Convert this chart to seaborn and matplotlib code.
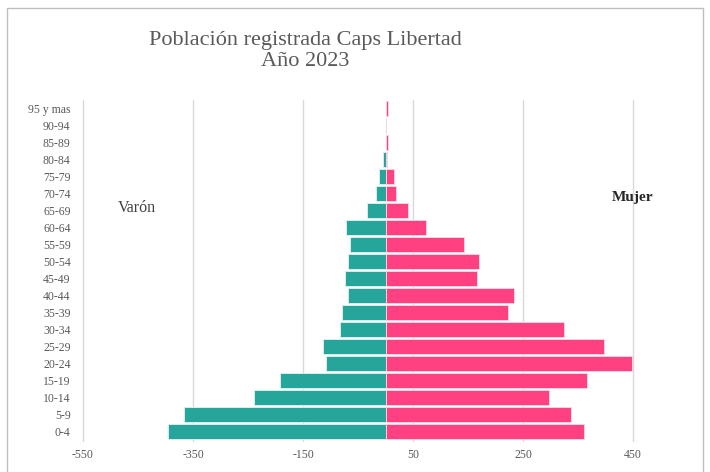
import numpy as np
import pandas as pd
import seaborn as sns
import matplotlib.pyplot as plt
from matplotlib.patches import Rectangle

# age groups, youngest first
ages = ['0-4', '5-9', '10-14', '15-19', '20-24', '25-29', '30-34', '35-39',
        '40-44', '45-49', '50-54', '55-59', '60-64', '65-69', '70-74',
        '75-79', '80-84', '85-89', '90-94', '95 y mas']
varon = [396, 367, 239, 191, 108, 114, 82, 79, 68, 74, 69, 65, 71, 34, 17,
         12, 5, 0, 0, 0]
mujer = [360, 338, 298, 366, 449, 398, 324, 222, 233, 166, 170, 142, 74, 40,
         19, 15, 3, 4, 0, 4]
x_ticks = [-550, -350, -150, 50, 250, 450]

teal = '#26A69A'
pink = '#FF4081'
gray = '#595959'

df = pd.DataFrame({'edad': ages, 'Varón': [-v for v in varon], 'Mujer': mujer})
order = ages[::-1]

sns.set_style('white')
plt.rcParams['font.family'] = ['Liberation Serif', 'DejaVu Serif']

fig = plt.figure(figsize=(7.1, 4.72), dpi=100)
ax = fig.add_axes([83 / 710, 1 - 440.5 / 472, 550 / 710, 341 / 472])

sns.barplot(data=df, x='Varón', y='edad', order=order, color=teal,
            width=0.88, edgecolor='#d8efec', linewidth=0.7, orient='h',
            saturation=1, ax=ax)
sns.barplot(data=df, x='Mujer', y='edad', order=order, color=pink,
            width=0.88, edgecolor='#f7d3df', linewidth=0.7, orient='h',
            saturation=1, ax=ax)

ax.set_xlim(-550, 450)
ax.set_ylim(len(ages) - 0.5, -0.5)
ax.set_xticks(x_ticks)
ax.set_xticklabels([str(t) for t in x_ticks])
ax.xaxis.grid(True, color='#d9d9d9', linewidth=1)
for gl in ax.get_xgridlines():
    gl.set_clip_on(False)
ax.set_axisbelow(True)
ax.set_xlabel('')
ax.set_ylabel('')
for s in ax.spines.values():
    s.set_visible(False)
ax.tick_params(axis='both', length=0, labelsize=8.5, labelcolor=gray)
ax.tick_params(axis='y', pad=9)
ax.tick_params(axis='x', pad=6)

fig.text(305 / 710, 1 - 40 / 472, 'Población registrada Caps Libertad',
         ha='center', va='center', fontsize=16, color=gray)
fig.text(305 / 710, 1 - 62 / 472, 'Año 2023',
         ha='center', va='center', fontsize=16, color=gray)
fig.text(137 / 710, 1 - 208 / 472, 'Varón', ha='center', va='center',
         fontsize=11.5, color='#404040')
fig.text(633 / 710, 1 - 197 / 472, 'Mujer', ha='center', va='center',
         fontsize=11, color='#262626', fontweight='bold')

fig.patches.append(Rectangle((7 / 710, -0.01), 696 / 710, 1.01 - 8 / 472,
                             transform=fig.transFigure, fill=False,
                             edgecolor='#bfbfbf', linewidth=1))

fig.savefig('out.png', dpi=100)
